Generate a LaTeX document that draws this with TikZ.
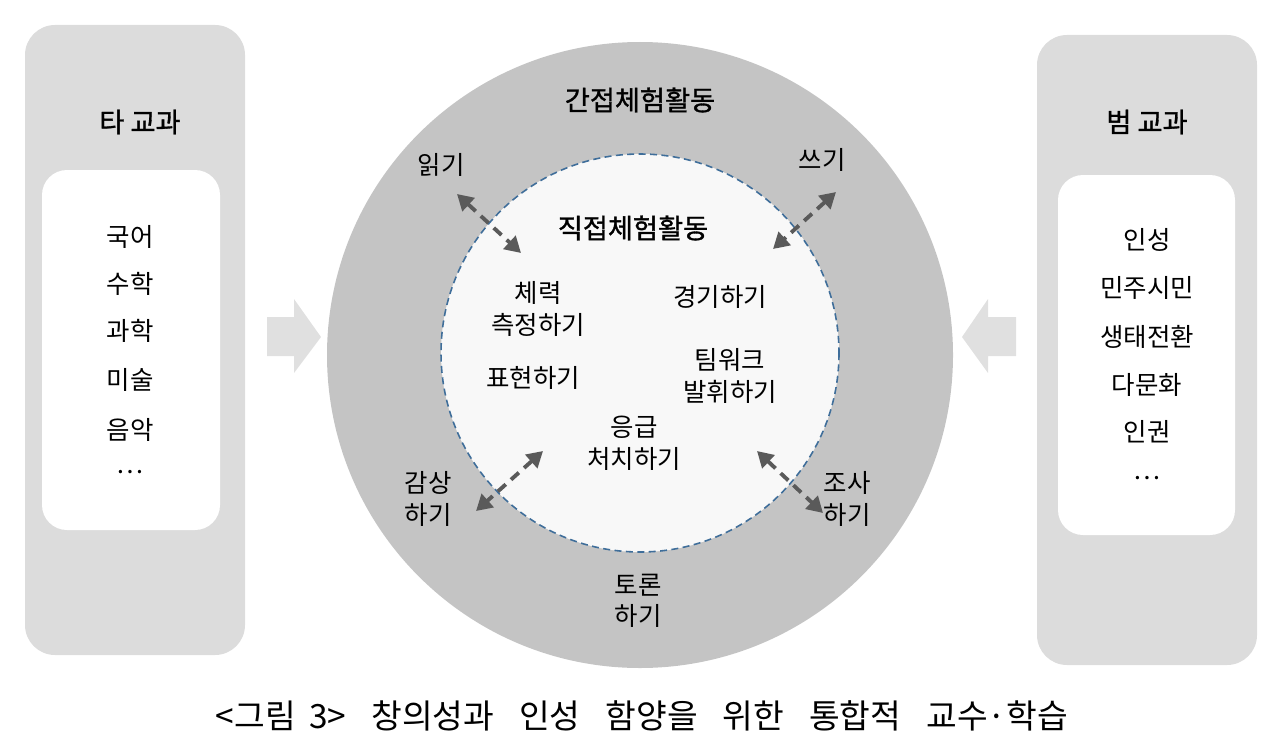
\documentclass[tikz,border=0pt]{standalone}
\usepackage{fontspec}
\setmainfont{Noto Sans CJK KR}
\newfontfamily\headfont[FakeBold=1.2]{Noto Sans CJK KR}
\usetikzlibrary{arrows.meta}

\definecolor{panelgray}{HTML}{DCDCDC}
\definecolor{ringgray}{HTML}{C4C4C4}
\definecolor{arrowgray}{HTML}{E0E0E0}
\definecolor{coregray}{HTML}{F8F8F8}
\definecolor{linkgray}{HTML}{5A5A5A}
\definecolor{rimblue}{HTML}{3F6E9A}

\begin{document}
\begin{tikzpicture}[x=0.02cm,y=-0.02cm,
                    every node/.style={font=\fontsize{14.5}{18}\selectfont,align=center,inner sep=0pt},
                    head/.style={font=\fontsize{15.5}{19}\headfont},
                    panel/.style={fill=panelgray,rounded corners=0.6cm},
                    listbox/.style={fill=white,rounded corners=0.5cm},
                    link/.style={linkgray,line width=2.2pt,dash pattern=on 6pt off 4pt,
                                 {Triangle[length=9pt,width=10pt]}-{Triangle[length=9pt,width=10pt]}}]
   \useasboundingbox (0,0) rectangle (1280,750);
   % side panels
   \fill[panel] (25,25) rectangle (245,655);
   \fill[listbox] (42,170) rectangle (220,530);
   \fill[panel] (1037,35) rectangle (1257,665);
   \fill[listbox] (1058,175) rectangle (1235,535);
   % block arrows
   \fill[arrowgray] (267,317) -- (294,317) -- (294,299) -- (321,337) -- (294,373)
                    -- (294,356) -- (267,356) -- cycle;
   \fill[arrowgray] (1016,317) -- (988,317) -- (988,299) -- (962,337) -- (988,373)
                    -- (988,356) -- (1016,356) -- cycle;
   % circles
   \fill[ringgray] (640,355) circle (313);
   \draw[rimblue,fill=coregray,line width=0.9pt,dash pattern=on 4pt off 2.5pt] (640,353) circle (199);

   % left list
   \node[head] (ta) at (140,122) {타 교과};
   \node (l1) at (130,237) {국어};
   \node (l2) at (130,284) {수학};
   \node (l3) at (130,331) {과학};
   \node (l4) at (130,380) {미술};
   \node (l5) at (130,430) {음악};
   \node (l6) at (130,472) {…};
   % right list
   \node[head] (beom) at (1147,122) {범 교과};
   \node (r1) at (1147,240) {인성};
   \node (r2) at (1147,288) {민주시민};
   \node (r3) at (1147,337) {생태전환};
   \node (r4) at (1147,385) {다문화};
   \node (r5) at (1147,432) {인권};
   \node (r6) at (1147,478) {…};

   % ring labels
   \node[head] (indirect) at (640,100) {간접체험활동};
   \node (read)  at (441,165) {읽기};
   \node (write) at (822,160) {쓰기};
   \node (appr)  at (428,499) {감상\\하기};
   \node (surv)  at (847,499) {조사\\하기};
   \node (disc)  at (638,601) {토론\\하기};
   % core labels
   \node[head] (direct) at (633,228) {직접체험활동};
   \node (fit)   at (538,309) {체력\\측정하기};
   \node (game)  at (720,297) {경기하기};
   \node (expr)  at (533,378) {표현하기};
   \node (team)  at (730,376) {팀워크\\발휘하기};
   \node (aid)   at (634,443) {응급\\처치하기};

   % links across the rim
   \coordinate (ra) at (457,194); \coordinate (rb) at (521,253);
   \coordinate (wa) at (836,192); \coordinate (wb) at (773,249);
   \coordinate (aa) at (543,451); \coordinate (ab) at (476,511);
   \coordinate (sa) at (757,451); \coordinate (sb) at (823,513);
   \draw[link] (ra) -- (rb);
   \draw[link] (wa) -- (wb);
   \draw[link] (aa) -- (ab);
   \draw[link] (sa) -- (sb);

   % caption
   \node[font=\fontsize{19}{22}\selectfont] (cap) at (642,716)
        {<그림\hspace{0.4em}3>\hspace{0.75em}창의성과\hspace{0.75em}인성\hspace{0.75em}함양을\hspace{0.75em}위한\hspace{0.75em}통합적\hspace{0.75em}교수·학습};
\end{tikzpicture}
\end{document}
